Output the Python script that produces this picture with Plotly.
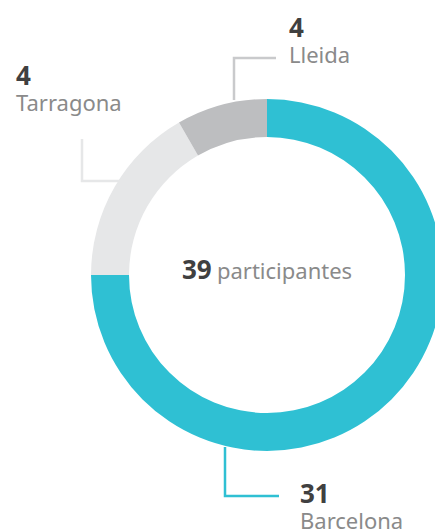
import plotly.graph_objects as go

# data
cities = ["Barcelona", "Tarragona", "Lleida"]
participants = [31, 4, 4]
# the ring in the graphic is not drawn to scale: arc shares as they appear
arc_share = [270, 60, 30]
colors = ["#2fc0d3", "#e6e7e8", "#bdbec0"]
total = sum(participants)

W, H = 450, 530
cx, cy, R = 267, 275, 176


def px(x):
    return x / W


def py(y):
    return 1 - y / H


fig = go.Figure(go.Pie(
    labels=cities,
    values=arc_share,
    customdata=participants,
    hovertemplate="%{label}: %{customdata}<extra></extra>",
    marker=dict(colors=colors, line=dict(width=0)),
    hole=138 / 176,
    sort=False,
    direction="clockwise",
    rotation=0,
    textinfo="none",
    domain=dict(x=[px(cx - R), px(cx + R)], y=[py(cy + R), py(cy - R)]),
    showlegend=False,
))

base_font = dict(family="Noto Sans, Open Sans, sans-serif", size=20, color="#8a8a8a")
num_style = "font-size:26px;color:#404040"
name_style = "font-size:22px"

# label positions: left x, vertical middle of the two-line block
label_pos = {"Lleida": (287, 39), "Tarragona": (14, 87), "Barcelona": (298, 505)}
for city, n in zip(cities, participants):
    x, y = label_pos[city]
    fig.add_annotation(x=px(x), y=py(y),
                       text=f"<b><span style='{num_style}'>{n}</span></b><br>"
                            f"<span style='{name_style}'>{city}</span>",
                       font=base_font, align="left",
                       xref="paper", yref="paper", xanchor="left", yanchor="middle",
                       showarrow=False)

fig.add_annotation(x=px(cx), y=py(269),
                   text=f"<b><span style='{num_style}'>{total}</span></b> "
                        f"<span style='{name_style}'>participantes</span>",
                   font=base_font, xref="paper", yref="paper", xanchor="center", yanchor="middle",
                   showarrow=False)

# leader lines
leaders = [
    ([(234, 100), (234, 58), (276, 58)], "#c9cacc"),
    ([(82, 139), (82, 181), (120, 181)], "#e6e7e8"),
    ([(225, 447), (225, 496), (279, 496)], "#2fc0d3"),
]
for pts, col in leaders:
    path = "M " + " L ".join(f"{px(x)},{py(y)}" for x, y in pts)
    fig.add_shape(type="path", path=path, xref="paper", yref="paper",
                  line=dict(color=col, width=2.5))

fig.update_layout(width=W, height=H, margin=dict(l=0, r=0, t=0, b=0),
                  paper_bgcolor="white", plot_bgcolor="white")

fig.write_html("out.html", config={"displayModeBar": False},
               post_script="document.body.style.margin='0';document.body.style.overflow='hidden';")
